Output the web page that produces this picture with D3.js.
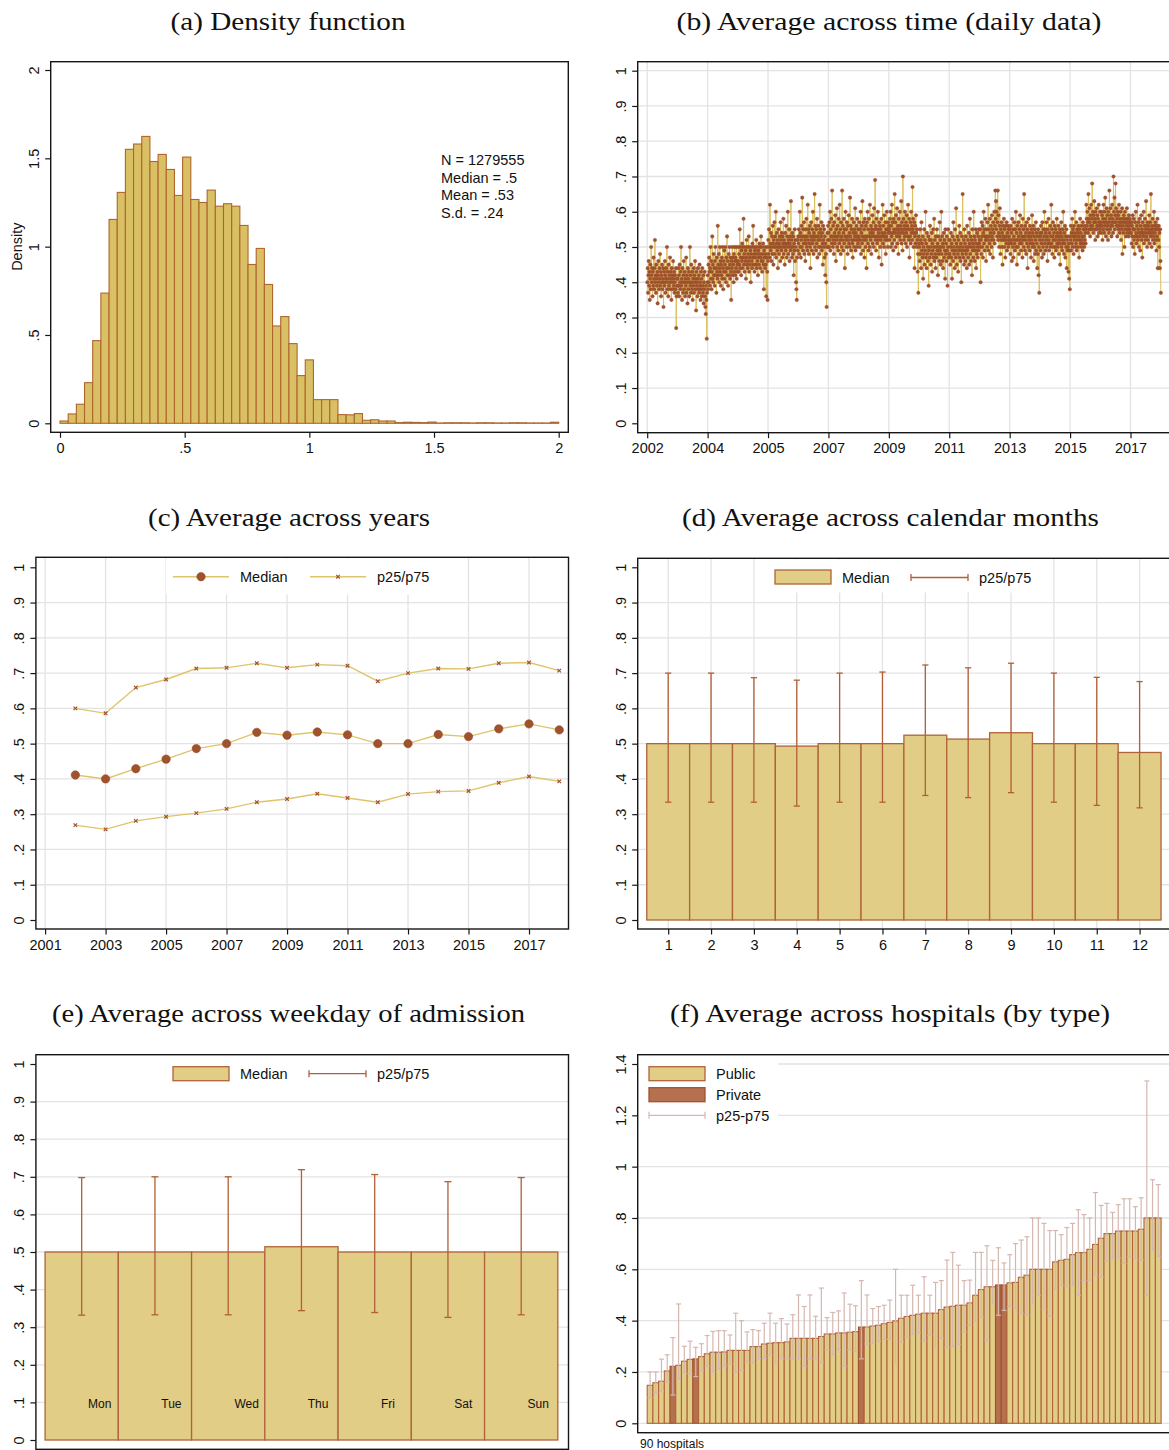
<!DOCTYPE html>
<html>
<head>
<meta charset="utf-8">
<script src="https://cdn.jsdelivr.net/npm/d3@7"></script>
<style>
  html, body { margin: 0; padding: 0; background: #fff; }
  svg { display: block; }
  text { font-family: "Liberation Sans", Arial, Helvetica, sans-serif; fill: #111; }
  text.title { font-family: "Liberation Serif", "DejaVu Serif", serif; }
</style>
</head>
<body>
<script>
// ---------------- (a) histogram: 61 bins over [0, 2] ----------------
const histDensity = [.013,.053,.108,.23,.468,.737,1.154,1.307,1.551,1.581,
  1.624,1.482,1.522,1.437,1.29,1.507,1.267,1.25,1.32,1.229,
  1.243,1.229,1.12,.899,.99,.786,.551,.604,.451,.27,
  .359,.134,.134,.134,.049,.048,.055,.017,.02,.013,
  .013,.004,.006,.005,.004,.007,.002,.003,.003,.003,
  .002,.003,.003,.002,.002,.003,.003,.002,.002,.002,.006];
const histStats = ["N = 1279555", "Median = .5", "Mean = .53", "S.d. = .24"];
const histTicksX = [0, .5, 1, 1.5, 2];
const histTicksY = [0, .5, 1, 1.5, 2];

// ---------------- (b) daily averages, readings spread evenly through each year ----------------
const d2002 = [.40,.44,.37,.42,.46,.39,.43,.35,.41,.45,.38,.50,.42,.40,.44,.36,.43,.39,.47,.41,.38,.44,.52,.40,.42,.37,.45,.41,.39,.43,.34,.42,.46,.40,.38,.44,.41,.48,.39,.43,.36,.42,.40,.45,.38,.41,.44,.33,.40,.43,.39,.46,.42,.37,.41,.44,.40,.50,.38,.43,.41,.36,.45,.39,.42,.40,.47,.38,.43,.41,.35,.44,.40,.42,.38,.46,.41,.39,.43,.37,.40,.42,.38,.44,.27,.36,.41,.39];
const d2003 = [.41,.37,.44,.39,.42,.36,.45,.40,.38,.43,.50,.39,.41,.35,.44,.40,.37,.42,.46,.38,.40,.43,.36,.41,.39,.47,.37,.42,.40,.34,.44,.38,.41,.43,.36,.40,.50,.39,.42,.37,.45,.40,.38,.43,.35,.41,.39,.44,.37,.42,.40,.46,.38,.41,.32,.43,.39,.40,.36,.44,.41,.38,.42,.37,.45,.39,.40,.35,.43,.38,.41,.36,.44,.39,.37,.42,.34,.40,.38,.43,.36,.33,.31,.39,.35,.24,.37,.40];
const d2004 = [.42,.38,.45,.40,.47,.43,.39,.44,.50,.41,.46,.38,.43,.53,.41,.45,.40,.48,.42,.44,.39,.46,.50,.42,.44,.37,.47,.43,.41,.56,.45,.42,.48,.40,.44,.50,.43,.46,.39,.45,.42,.47,.41,.50,.44,.38,.46,.43,.49,.41,.45,.50,.43,.40,.47,.44,.53,.42,.46,.39,.44,.48,.42,.50,.45,.41,.47,.43,.35,.46,.44,.50,.42,.47,.45,.40,.48,.43,.50,.46,.42,.47,.44,.50,.41,.46,.45,.43];
const d2005 = [.46,.50,.43,.48,.45,.55,.44,.50,.47,.42,.49,.46,.51,.44,.50,.47,.58,.45,.48,.43,.50,.46,.49,.41,.47,.52,.45,.50,.44,.48,.46,.53,.43,.50,.47,.45,.49,.40,.48,.50,.46,.44,.51,.47,.56,.45,.50,.48,.43,.49,.47,.50,.45,.52,.44,.48,.46,.50,.42,.49,.47,.45,.51,.48,.50,.44,.47,.53,.46,.50,.43,.48,.46,.51,.45,.38,.49,.47,.50,.44,.48,.45,.36,.47,.50,.43,.35,.46];
const d2006 = [.52,.48,.55,.50,.47,.62,.51,.49,.54,.46,.50,.53,.48,.56,.51,.45,.52,.50,.57,.48,.53,.50,.60,.47,.51,.54,.49,.52,.44,.50,.55,.48,.51,.53,.50,.46,.57,.52,.49,.54,.50,.47,.53,.51,.58,.48,.52,.50,.45,.54,.51,.49,.56,.50,.47,.53,.51,.60,.48,.52,.50,.55,.46,.51,.53,.49,.63,.50,.52,.47,.54,.50,.48,.53,.42,.51,.49,.55,.46,.52,.50,.40,.38,.35,.47,.52,.49,.53];
const d2007 = [.51,.55,.48,.53,.60,.50,.54,.47,.52,.56,.50,.64,.53,.49,.55,.51,.57,.48,.53,.52,.46,.55,.51,.58,.50,.53,.49,.62,.52,.55,.48,.54,.51,.56,.50,.44,.53,.57,.52,.49,.55,.51,.60,.53,.48,.54,.52,.65,.50,.56,.53,.49,.55,.51,.58,.47,.53,.52,.56,.50,.54,.48,.62,.52,.55,.50,.53,.57,.49,.54,.51,.45,.56,.52,.50,.55,.47,.53,.42,.51,.48,.40,.33,.50,.54,.52,.56,.50];
const d2008 = [.54,.50,.57,.52,.60,.49,.55,.53,.58,.51,.66,.53,.50,.56,.52,.48,.57,.54,.51,.59,.53,.46,.55,.52,.61,.50,.56,.53,.49,.58,.54,.51,.62,.52,.55,.48,.57,.53,.50,.66,.52,.56,.49,.54,.58,.51,.55,.44,.53,.60,.52,.55,.50,.57,.53,.48,.56,.52,.59,.51,.54,.50,.64,.53,.56,.49,.55,.52,.58,.51,.47,.54,.52,.57,.50,.55,.53,.61,.49,.54,.52,.56,.50,.58,.53,.51,.55,.52];
const d2009 = [.53,.57,.50,.55,.52,.60,.48,.54,.56,.51,.63,.53,.49,.57,.52,.55,.47,.58,.53,.50,.56,.52,.44,.57,.53,.60,.51,.55,.49,.58,.53,.50,.62,.54,.52,.56,.48,.55,.53,.59,.51,.54,.57,.50,.61,.53,.55,.69,.52,.56,.49,.58,.53,.51,.55,.60,.52,.54,.47,.57,.53,.56,.50,.55,.52,.58,.45,.54,.53,.62,.51,.56,.53,.50,.59,.54,.52,.57,.48,.55,.53,.60,.52,.55,.50,.57,.54,.56];
const d2010 = [.55,.52,.58,.54,.60,.50,.56,.53,.62,.51,.57,.54,.49,.58,.55,.52,.65,.54,.57,.50,.59,.55,.53,.61,.51,.56,.54,.48,.58,.55,.53,.60,.52,.56,.54,.63,.51,.57,.55,.49,.70,.54,.58,.52,.56,.53,.60,.55,.51,.57,.54,.59,.50,.56,.53,.62,.55,.52,.58,.47,.55,.53,.57,.51,.60,.54,.56,.52,.67,.55,.58,.50,.54,.57,.44,.53,.56,.51,.59,.54,.50,.55,.52,.43,.48,.37,.53,.51];
const d2011 = [.50,.46,.55,.48,.52,.44,.57,.49,.51,.47,.53,.41,.50,.48,.55,.45,.52,.49,.60,.47,.51,.44,.54,.48,.50,.46,.53,.39,.49,.52,.47,.56,.50,.45,.52,.48,.54,.43,.51,.49,.55,.47,.50,.58,.46,.52,.48,.44,.53,.50,.47,.55,.49,.51,.42,.53,.48,.50,.46,.57,.49,.52,.45,.50,.60,.48,.53,.46,.51,.44,.50,.54,.47,.52,.49,.41,.55,.48,.51,.46,.53,.49,.39,.50,.55,.47,.52,.48];
const d2012 = [.48,.52,.45,.50,.54,.47,.51,.41,.49,.53,.46,.57,.50,.48,.52,.44,.55,.49,.47,.61,.51,.45,.50,.53,.48,.43,.52,.49,.56,.47,.50,.54,.46,.51,.40,.49,.53,.48,.65,.50,.47,.52,.45,.55,.49,.51,.46,.53,.48,.50,.44,.56,.49,.52,.47,.50,.54,.45,.51,.58,.48,.53,.46,.50,.52,.42,.55,.49,.51,.47,.60,.50,.53,.46,.52,.49,.55,.44,.51,.48,.54,.50,.47,.53,.49,.55,.51,.52];
const d2013 = [.50,.55,.40,.52,.48,.57,.53,.50,.56,.47,.54,.60,.51,.55,.49,.53,.58,.52,.46,.55,.53,.50,.57,.52,.62,.49,.55,.53,.51,.58,.48,.54,.56,.52,.50,.59,.53,.55,.47,.57,.52,.54,.60,.51,.56,.66,.58,.63,.55,.60,.53,.57,.66,.52,.59,.54,.50,.56,.61,.53,.48,.55,.52,.57,.50,.54,.45,.56,.52,.53,.58,.50,.55,.52,.47,.56,.53,.51,.57,.49,.54,.52,.56,.50,.55,.53,.51,.55];
const d2014 = [.52,.48,.56,.51,.54,.46,.58,.52,.50,.55,.47,.53,.57,.51,.49,.55,.52,.60,.50,.54,.45,.56,.52,.50,.57,.53,.48,.55,.51,.59,.52,.54,.49,.56,.51,.53,.47,.58,.52,.55,.50,.65,.53,.49,.56,.52,.54,.48,.57,.51,.55,.44,.53,.50,.58,.52,.54,.49,.56,.51,.53,.47,.55,.52,.59,.50,.54,.51,.56,.46,.53,.50,.55,.48,.52,.57,.49,.54,.51,.44,.53,.48,.55,.42,.50,.37,.52,.54];
const d2015 = [.53,.49,.56,.51,.54,.47,.57,.52,.50,.55,.48,.53,.60,.51,.55,.49,.54,.52,.57,.50,.53,.46,.55,.51,.58,.52,.49,.54,.51,.56,.50,.53,.62,.51,.55,.48,.53,.57,.52,.50,.54,.47,.56,.52,.50,.55,.49,.53,.58,.51,.54,.50,.52,.56,.48,.53,.51,.55,.45,.54,.52,.57,.50,.53,.49,.55,.51,.60,.52,.48,.54,.51,.56,.47,.53,.50,.55,.44,.52,.49,.53,.50,.43,.51,.41,.49,.38,.53];
const d2016 = [.52,.56,.49,.54,.51,.58,.50,.55,.53,.48,.56,.52,.54,.60,.50,.53,.51,.57,.49,.55,.52,.54,.50,.56,.53,.47,.55,.52,.58,.51,.54,.50,.56,.52,.53,.49,.57,.51,.55,.53,.50,.56,.52,.54,.51,.55,.62,.58,.56,.60,.57,.54,.65,.58,.55,.61,.57,.53,.59,.56,.62,.55,.58,.68,.56,.60,.54,.59,.57,.63,.55,.58,.52,.60,.57,.55,.61,.56,.59,.53,.58,.56,.62,.54,.57,.55,.60,.56];
const d2017 = [.57,.54,.60,.56,.59,.52,.58,.55,.62,.57,.54,.60,.56,.64,.58,.53,.57,.61,.55,.59,.56,.52,.60,.57,.54,.66,.58,.55,.61,.56,.59,.53,.57,.62,.56,.58,.54,.70,.60,.57,.64,.55,.59,.68,.57,.61,.56,.58,.53,.60,.56,.59,.55,.62,.57,.54,.58,.56,.60,.52,.57,.55,.61,.48,.58,.56,.54,.59,.57,.50,.60,.55,.58,.53,.57,.56,.61,.54,.58,.55,.57,.53,.59,.56,.55,.58,.54,.57];
const d2018 = [.54,.57,.51,.56,.53,.59,.50,.55,.58,.52,.55,.48,.57,.53,.60,.54,.51,.56,.53,.62,.52,.55,.57,.50,.54,.58,.53,.49,.56,.54,.59,.52,.55,.47,.57,.54,.53,.60,.51,.56,.54,.58,.52,.55,.63,.53,.56,.50,.57,.54,.52,.56,.55,.59,.51,.54,.57,.53,.65,.55,.50,.56,.54,.58,.52,.55,.53,.60,.51,.56,.54,.57,.52,.55,.49,.56,.53,.58,.44,.55,.52,.56,.50,.54,.44,.55,.46,.37];
const dailyYears = [2002,2003,2004,2005,2006,2007,2008,2009,2010,2011,2012,2013,2014,2015,2016,2017,2018];
const dailyByYear = [d2002,d2003,d2004,d2005,d2006,d2007,d2008,d2009,d2010,d2011,d2012,d2013,d2014,d2015,d2016,d2017,d2018];
// Axis ticks every 730 days from 1 Jan 2002, labelled with their year
const dailyTickDates = ["2002-01-01","2004-01-01","2005-12-31","2007-12-31","2009-12-30","2011-12-30","2013-12-29","2015-12-29","2017-12-28"];
const unitTicks = [0,.1,.2,.3,.4,.5,.6,.7,.8,.9,1];

// ---------------- (c) by year ----------------
const years = [2002,2003,2004,2005,2006,2007,2008,2009,2010,2011,2012,2013,2014,2015,2016,2017,2018];
const yearMedian = [.411,.400,.429,.456,.486,.500,.532,.524,.533,.525,.500,.500,.526,.520,.542,.556,.539];
const yearP25 = [.269,.257,.281,.293,.303,.315,.334,.343,.358,.346,.334,.357,.364,.366,.389,.407,.393];
const yearP75 = [.600,.586,.659,.682,.713,.715,.728,.715,.724,.721,.677,.700,.713,.712,.728,.730,.707];
const yearTicks = [2001,2003,2005,2007,2009,2011,2013,2015,2017];

// ---------------- (d) by calendar month ----------------
const months = [1,2,3,4,5,6,7,8,9,10,11,12];
const monthMedian = [.50,.50,.50,.493,.50,.50,.524,.513,.531,.50,.50,.475];
const monthP25 = [.334,.334,.334,.323,.334,.334,.353,.347,.361,.334,.325,.318];
const monthP75 = [.700,.700,.687,.680,.700,.703,.723,.715,.728,.700,.688,.676];

// ---------------- (e) by weekday ----------------
const weekdays = ["Mon","Tue","Wed","Thu","Fri","Sat","Sun"];
const dayMedian = [.50,.50,.50,.514,.50,.50,.50];
const dayP25 = [.332,.333,.333,.344,.339,.326,.333];
const dayP75 = [.698,.700,.700,.719,.706,.687,.698];

// ---------------- (f) by hospital, sorted by median ----------------
const hospMedian = [.148,.158,.164,.204,.222,.226,.242,.249,.251,.26,.271,.277,.277,.278,.284,.284,.284,.284,.299,.299,
  .309,.312,.314,.314,.317,.331,.331,.331,.331,.331,.338,.348,.348,.352,.352,.355,.357,.375,.375,.379,
  .382,.388,.393,.399,.409,.416,.421,.425,.429,.429,.429,.443,.453,.456,.46,.46,.469,.499,.521,.532,
  .532,.539,.539,.547,.549,.569,.577,.60,.60,.60,.60,.629,.635,.639,.657,.665,.665,.678,.697,.721,
  .739,.739,.749,.749,.749,.749,.756,.80,.80,.80];
const hospP25 = [.10,.12,.125,.16,.11,.173,.196,.192,.182,.206,.222,.199,.213,.222,.232,.199,.206,.239,.234,.251,
  .253,.265,.234,.253,.251,.251,.251,.222,.251,.251,.238,.286,.269,.286,.222,.286,.28,.251,.309,.312,
  .319,.327,.327,.234,.317,.334,.347,.352,.321,.343,.294,.331,.295,.30,.308,.356,.382,.40,.413,.323,
  .466,.421,.44,.455,.448,.429,.421,.466,.499,.444,.417,.523,.538,.535,.538,.499,.556,.558,.579,.57,
  .632,.643,.645,.623,.648,.642,.636,.499,.675,.651];
const hospP75 = [.20,.20,.25,.267,.334,.465,.30,.32,.296,.31,.342,.358,.361,.361,.344,.429,.40,.356,.365,.361,
  .39,.429,.39,.408,.387,.423,.50,.455,.50,.417,.527,.412,.432,.438,.508,.464,.458,.556,.50,.447,
  .455,.46,.48,.60,.499,.499,.538,.499,.571,.499,.549,.556,.636,.666,.616,.556,.558,.666,.666,.692,
  .635,.684,.625,.657,.70,.714,.727,.80,.80,.779,.751,.751,.735,.763,.779,.832,.813,.80,.899,.849,
  .857,.822,.852,.875,.875,.844,.879,1.334,.949,.93];
// 1 = private hospital, 0 = public
const hospPrivate = [0,0,0,0,1,0,0,0,1,0,0,0,0,0,0,0,0,0,0,0,
  0,0,0,0,0,0,0,0,0,0,0,0,0,0,0,0,0,1,0,0,
  0,0,0,0,0,0,0,0,0,0,0,0,0,0,0,0,0,0,0,0,
  0,1,1,0,0,0,0,0,0,0,0,0,0,0,0,0,0,0,0,0,
  0,0,0,0,0,0,0,0,0,0];
const hospTicksY = [0,.2,.4,.6,.8,1,1.2,1.4];

const titles = ["(a) Density function", "(b) Average across time (daily data)",
  "(c) Average across years", "(d) Average across calendar months",
  "(e) Average across weekday of admission", "(f) Average across hospitals (by type)"];

// ---------------- drawing ----------------
const W = 1169, H = 1450;
const FS = 14.5;
const C = {
  grid: "#e3e3e3", axis: "#161616",
  histFill: "#d9c064", histStroke: "#b0652e",
  barFill: "#e1cd86", barStroke: "#b0633a",
  err: "#b25f37", line: "#dcbf5e", dot: "#a0522d", dotEdge: "#94492a",
  privFill: "#b5714f", privStroke: "#a0522d", hospErr: "#d6b7b0"
};

const svg = d3.select("body").append("svg")
  .attr("width", W).attr("height", H).attr("viewBox", `0 0 ${W} ${H}`);

// Stata style numbers: ".5" instead of "0.5"
function stataNum(v) {
  const s = d3.format("~g")(+(+v).toFixed(6));
  return s.replace(/^0\./, ".").replace(/^-0\./, "-.");
}

function title(txt, cx, baseline, width) {
  svg.append("text").attr("class", "title")
    .attr("x", cx).attr("y", baseline).attr("text-anchor", "middle")
    .attr("font-size", 26).attr("textLength", width).attr("lengthAdjust", "spacingAndGlyphs")
    .text(txt);
}

function frame(g, x0, y0, x1, y1) {
  g.append("rect").attr("x", x0).attr("y", y0).attr("width", x1 - x0).attr("height", y1 - y0)
    .attr("fill", "none").attr("stroke", C.axis).attr("stroke-width", 1.4);
}

function yAxis(g, scale, ticks, xPos) {
  const a = g.append("g").attr("transform", `translate(${xPos},0)`)
    .call(d3.axisLeft(scale).tickValues(ticks).tickSize(5.5).tickFormat(stataNum));
  a.attr("font-family", null).attr("font-size", FS);
  a.select(".domain").remove();
  a.selectAll(".tick line").attr("stroke", C.axis).attr("stroke-width", 1.2);
  a.selectAll(".tick text").attr("x", null).attr("dy", null)
    .attr("text-anchor", "middle").attr("font-size", FS)
    .attr("transform", "translate(-12,0) rotate(-90)");
}

function xAxis(g, scale, ticks, yPos, fmt) {
  const a = g.append("g").attr("transform", `translate(0,${yPos})`)
    .call(d3.axisBottom(scale).tickValues(ticks).tickSize(5.5).tickPadding(5).tickFormat(fmt));
  a.attr("font-family", null).attr("font-size", FS);
  a.select(".domain").remove();
  a.selectAll(".tick line").attr("stroke", C.axis).attr("stroke-width", 1.2);
  a.selectAll(".tick text").attr("font-size", FS);
}

function hGrid(g, scale, ticks, x0, x1) {
  g.append("g").selectAll("line").data(ticks).join("line")
    .attr("x1", x0).attr("x2", x1).attr("y1", d => scale(d)).attr("y2", d => scale(d))
    .attr("stroke", C.grid).attr("stroke-width", 1.3);
}
function vGrid(g, scale, ticks, y0, y1) {
  g.append("g").selectAll("line").data(ticks).join("line")
    .attr("y1", y0).attr("y2", y1).attr("x1", d => scale(d)).attr("x2", d => scale(d))
    .attr("stroke", C.grid).attr("stroke-width", 1.3);
}

function errorBars(g, xs, lo, hi, cap, color, width) {
  const eg = g.append("g").attr("stroke", color).attr("stroke-width", width).attr("fill", "none");
  xs.forEach((x, i) => {
    eg.append("line").attr("x1", x).attr("x2", x).attr("y1", lo[i]).attr("y2", hi[i]);
    eg.append("line").attr("x1", x - cap / 2).attr("x2", x + cap / 2).attr("y1", lo[i]).attr("y2", lo[i]);
    eg.append("line").attr("x1", x - cap / 2).attr("x2", x + cap / 2).attr("y1", hi[i]).attr("y2", hi[i]);
  });
}

function legendText(g, x, y, txt) {
  g.append("text").attr("x", x).attr("y", y).attr("dy", "0.36em").attr("font-size", FS).text(txt);
}
function legendErr(g, x0, x1, y, color, width) {
  g.append("line").attr("x1", x0).attr("x2", x1).attr("y1", y).attr("y2", y).attr("stroke", color).attr("stroke-width", width);
  [x0, x1].forEach(x => g.append("line").attr("x1", x).attr("x2", x).attr("y1", y - 3.5).attr("y2", y + 3.5)
    .attr("stroke", color).attr("stroke-width", width));
}

// ---- titles ----
title(titles[0], 288, 29.5, 235);
title(titles[1], 889, 29.5, 425);
title(titles[2], 289, 525.5, 282);
title(titles[3], 890.5, 525.5, 417);
title(titles[4], 288.5, 1022, 473);
title(titles[5], 890, 1022, 440);

// ================= (a) =================
{
  const g = svg.append("g");
  const x = d3.scaleLinear().domain([0, 2]).range([60, 558.7]);
  const y = d3.scaleLinear().domain([0, 2]).range([423.3, 70]);
  const bw = 2 / histDensity.length;
  g.append("g").selectAll("rect").data(histDensity).join("rect")
    .attr("x", (d, i) => x(i * bw)).attr("width", x(bw) - x(0))
    .attr("y", d => y(d)).attr("height", d => y(0) - y(d))
    .attr("fill", C.histFill).attr("stroke", C.histStroke).attr("stroke-width", 1.1);
  frame(g, 50.7, 61.7, 568.3, 432.3);
  yAxis(g, y, histTicksY, 50.7);
  xAxis(g, x, histTicksX, 432.3, stataNum);
  g.append("text").attr("transform", "translate(21.5,246.7) rotate(-90)")
    .attr("text-anchor", "middle").attr("font-size", FS).text("Density");
  const bases = [165, 182.7, 200.3, 218];
  histStats.forEach((s, i) => g.append("text").attr("x", 441).attr("y", bases[i]).attr("font-size", FS).text(s));
}

// ================= (b) =================
{
  const g = svg.append("g");
  const tickDates = dailyTickDates.map(s => new Date(s + "T00:00:00Z"));
  const x = d3.scaleUtc().domain([tickDates[0], tickDates[tickDates.length - 1]]).range([647.2, 1130.5]);
  const y = d3.scaleLinear().domain([0, 1]).range([423.3, 70.7]);
  hGrid(g, y, unitTicks.slice(1), 637.7, W + 10);
  vGrid(g, x, tickDates, 61.7, 432.7);
  const pts = [];
  dailyYears.forEach((yr, k) => {
    const arr = dailyByYear[k];
    const t0 = Date.UTC(yr, 0, 1), t1 = Date.UTC(yr + 1, 0, 1);
    arr.forEach((v, i) => pts.push({ t: new Date(t0 + (i + 0.5) / arr.length * (t1 - t0)), v }));
  });
  g.append("path").datum(pts)
    .attr("d", d3.line().x(d => x(d.t)).y(d => y(d.v)))
    .attr("fill", "none").attr("stroke", C.line).attr("stroke-width", 1);
  g.append("g").selectAll("circle").data(pts).join("circle")
    .attr("cx", d => x(d.t)).attr("cy", d => y(d.v)).attr("r", 1.8)
    .attr("fill", C.dot).attr("stroke", C.dotEdge).attr("stroke-width", 0.3);
  frame(g, 637.7, 61.7, W + 20, 432.7);
  yAxis(g, y, unitTicks, 637.7);
  xAxis(g, x, tickDates, 432.7, d3.utcFormat("%Y"));
}

// ================= (c) =================
{
  const g = svg.append("g");
  const x = d3.scaleLinear().domain([2001, 2017]).range([45.1, 529]);
  const y = d3.scaleLinear().domain([0, 1]).range([920, 567.3]);
  hGrid(g, y, unitTicks.slice(1, 10), 35.9, 568.5);
  vGrid(g, x, yearTicks, 557.3, 929);
  g.append("rect").attr("x", 166).attr("y", 558.5).attr("width", 274).attr("height", 36).attr("fill", "#fff");
  const line = d3.line().x((d, i) => x(years[i])).y(d => y(d));
  [yearP75, yearP25, yearMedian].forEach(s => g.append("path").datum(s).attr("d", line)
    .attr("fill", "none").attr("stroke", "#dfc46c").attr("stroke-width", 1.4));
  const cross = (gg, cx, cy) => {
    const s = 1.8;
    gg.append("path").attr("d", `M${cx - s},${cy - s}L${cx + s},${cy + s}M${cx - s},${cy + s}L${cx + s},${cy - s}`)
      .attr("stroke", C.dot).attr("stroke-width", 1.2).attr("fill", "none");
  };
  const xg = g.append("g");
  years.forEach((yr, i) => { cross(xg, x(yr), y(yearP75[i])); cross(xg, x(yr), y(yearP25[i])); });
  g.append("g").selectAll("circle").data(yearMedian).join("circle")
    .attr("cx", (d, i) => x(years[i])).attr("cy", d => y(d)).attr("r", 4.2)
    .attr("fill", C.dot).attr("stroke", C.dotEdge).attr("stroke-width", 0.6);
  // legend
  const lg = g.append("g");
  lg.append("line").attr("x1", 173).attr("x2", 229).attr("y1", 576.7).attr("y2", 576.7).attr("stroke", "#dfc46c").attr("stroke-width", 1.4);
  lg.append("circle").attr("cx", 201).attr("cy", 576.7).attr("r", 4.2).attr("fill", C.dot).attr("stroke", C.dotEdge).attr("stroke-width", 0.6);
  legendText(lg, 240, 577, "Median");
  lg.append("line").attr("x1", 310).attr("x2", 366).attr("y1", 576.7).attr("y2", 576.7).attr("stroke", "#dfc46c").attr("stroke-width", 1.4);
  cross(lg, 338, 576.7);
  legendText(lg, 377, 577, "p25/p75");
  frame(g, 35.9, 557.3, 568.5, 929);
  yAxis(g, y, unitTicks, 35.9);
  xAxis(g, x, yearTicks, 929, d3.format("d"));
}

// ================= (d) =================
{
  const g = svg.append("g");
  const x = d3.scaleLinear().domain([1, 12]).range([668.2, 1139.6]);
  const y = d3.scaleLinear().domain([0, 1]).range([920, 567.3]);
  hGrid(g, y, unitTicks.slice(1, 10), 637.7, W + 10);
  vGrid(g, x, months, 558.3, 929);
  g.append("rect").attr("x", 763).attr("y", 559.5).attr("width", 276).attr("height", 33).attr("fill", "#fff");
  g.append("g").selectAll("rect").data(monthMedian).join("rect")
    .attr("x", (d, i) => x(months[i] - 0.5)).attr("width", x(1.5) - x(0.5))
    .attr("y", d => y(d)).attr("height", d => y(0) - y(d))
    .attr("fill", C.barFill).attr("stroke", C.barStroke).attr("stroke-width", 1.3);
  errorBars(g, months.map(m => x(m)), monthP25.map(y), monthP75.map(y), 6.2, C.err, 1.3);
  const lg = g.append("g");
  lg.append("rect").attr("x", 775).attr("y", 570).attr("width", 56).attr("height", 14)
    .attr("fill", C.barFill).attr("stroke", C.barStroke).attr("stroke-width", 1.3);
  legendText(lg, 842, 577.5, "Median");
  legendErr(lg, 911, 968, 577.5, C.err, 1.3);
  legendText(lg, 979, 577.5, "p25/p75");
  frame(g, 637.7, 558.3, W + 20, 929);
  yAxis(g, y, unitTicks, 637.7);
  xAxis(g, x, months, 929, d3.format("d"));
}

// ================= (e) =================
{
  const g = svg.append("g");
  const x = d3.scaleLinear().domain([1, 7]).range([81.7, 521.2]);
  const y = d3.scaleLinear().domain([0, 1]).range([1440, 1064]);
  hGrid(g, y, unitTicks.slice(1, 10), 35.9, 568.5);
  g.append("rect").attr("x", 166).attr("y", 1056).attr("width", 274).attr("height", 36).attr("fill", "#fff");
  const pos = weekdays.map((d, i) => i + 1);
  g.append("g").selectAll("rect").data(dayMedian).join("rect")
    .attr("x", (d, i) => x(pos[i] - 0.5)).attr("width", x(1.5) - x(0.5))
    .attr("y", d => y(d)).attr("height", d => y(0) - y(d))
    .attr("fill", C.barFill).attr("stroke", C.barStroke).attr("stroke-width", 1.3);
  errorBars(g, pos.map(p => x(p)), dayP25.map(y), dayP75.map(y), 7, C.err, 1.3);
  g.append("g").selectAll("text").data(weekdays).join("text")
    .attr("x", (d, i) => x(pos[i]) + 6.3).attr("y", 1408).attr("font-size", 12).text(d => d);
  const lg = g.append("g");
  lg.append("rect").attr("x", 173).attr("y", 1066.7).attr("width", 56).attr("height", 14)
    .attr("fill", C.barFill).attr("stroke", C.barStroke).attr("stroke-width", 1.3);
  legendText(lg, 240, 1074, "Median");
  legendErr(lg, 309, 366, 1073.7, C.err, 1.3);
  legendText(lg, 377, 1074, "p25/p75");
  frame(g, 35.9, 1054.7, 568.5, 1449.3);
  yAxis(g, y, unitTicks, 35.9);
}

// ================= (f) =================
{
  const g = svg.append("g");
  const x = d3.scaleBand().domain(d3.range(hospMedian.length)).range([647.2, 1161.1]).padding(0);
  const y = d3.scaleLinear().domain([0, 1.4]).range([1423.3, 1064]);
  hGrid(g, y, hospTicksY, 637.7, W + 10);
  g.append("rect").attr("x", 638.5).attr("y", 1055.5).attr("width", 139.5).attr("height", 70).attr("fill", "#fff");
  g.append("g").selectAll("rect").data(hospMedian).join("rect")
    .attr("x", (d, i) => x(i)).attr("width", x.bandwidth())
    .attr("y", d => y(d)).attr("height", d => y(0) - y(d))
    .attr("fill", (d, i) => hospPrivate[i] ? C.privFill : C.barFill)
    .attr("stroke", (d, i) => hospPrivate[i] ? C.privStroke : C.barStroke)
    .attr("stroke-width", 1.1);
  errorBars(g, hospMedian.map((d, i) => x(i) + x.bandwidth() / 2), hospP25.map(y), hospP75.map(y), 5, C.hospErr, 1.2);
  const lg = g.append("g");
  lg.append("rect").attr("x", 649).attr("y", 1066.7).attr("width", 56).attr("height", 14)
    .attr("fill", C.barFill).attr("stroke", C.barStroke).attr("stroke-width", 1.3);
  legendText(lg, 716, 1074, "Public");
  lg.append("rect").attr("x", 649).attr("y", 1087.7).attr("width", 56).attr("height", 14)
    .attr("fill", C.privFill).attr("stroke", C.privStroke).attr("stroke-width", 1.3);
  legendText(lg, 716, 1095, "Private");
  legendErr(lg, 649, 705, 1115.3, C.hospErr, 1.2);
  legendText(lg, 716, 1115.5, "p25-p75");
  frame(g, 637.7, 1054.7, W + 20, 1432.7);
  yAxis(g, y, hospTicksY, 637.7);
  g.append("text").attr("x", 640).attr("y", 1447.5).attr("font-size", 12)
    .text(`${hospMedian.length} hospitals`);
}
</script>
</body>
</html>
